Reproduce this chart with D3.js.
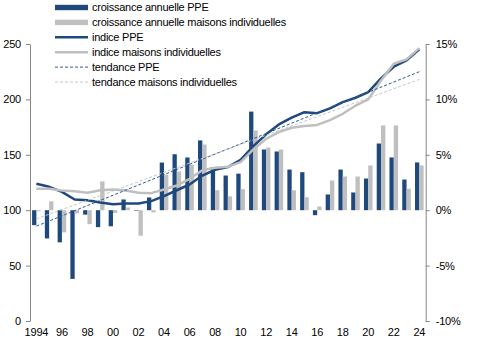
<!DOCTYPE html>
<html>
<head>
<meta charset="utf-8">
<script src="https://cdn.jsdelivr.net/npm/d3@7"></script>
<style>
  body { margin: 0; background: #fff; }
  svg { font-family: "Liberation Sans", Arial, sans-serif; font-size: 11px; }
  .axis path, .axis line { stroke: #868686; }
  .axis text { fill: #000; font-size: 11px; letter-spacing: -0.2px; }
  .legend text { fill: #000; letter-spacing: -0.25px; }
</style>
</head>
<body>
<div id="chart"></div>
<script>
var years = [1994,1995,1996,1997,1998,1999,2000,2001,2002,2003,2004,2005,2006,2007,2008,2009,
             2010,2011,2012,2013,2014,2015,2016,2017,2018,2019,2020,2021,2022,2023,2024];
var yearTicks = [1994,1996,1998,2000,2002,2004,2006,2008,2010,2012,2014,2016,2018,2020,2022,2024];
var yearLabels = ["1994","96","98","00","02","04","06","08","10","12","14","16","18","20","22","24"];

// croissance annuelle, en %
var croissancePPE = [-1.35,-2.55,-2.9,-6.2,-0.4,-1.53,-1.45,0.97,-0.05,1.15,4.3,5.05,4.76,6.3,3.9,3.13,
                     3.3,8.9,5.48,5.3,3.67,3.43,-0.45,1.42,3.67,1.6,2.86,6.02,4.76,2.77,4.31];
var croissanceMaisons = [-0.1,0.8,-2.0,-0.3,-1.26,2.6,-0.25,0.24,-2.3,-0.2,3.2,3.5,4.1,5.93,1.8,1.25,
                         1.9,7.2,5.66,5.48,1.8,1.17,0.33,2.68,3.04,3.04,4.04,7.65,7.65,1.93,4.04];

// indices
var indicePPE = [123.8,121.1,116.6,109.7,109,107,105.4,106,106,108.2,112.7,118,123.2,131.3,136.5,138.9,
                 145.5,157.8,168.5,177.4,183.5,188.5,187.6,191.9,197.5,201.5,206.6,219,229.5,235.3,245.2];
var indiceMaisons = [119.3,119.3,117.8,117.2,115.7,118,118.7,117.8,115.7,115.4,118.7,122.3,128.3,136,138.3,139.2,
                     143.4,154.8,164.5,170.5,174.4,175.9,177,181.3,187,194.3,200,217,232.2,236.1,246.3];

// tendances (debut 1994, fin 2024)
var tendanceYears = [1994, 2024];
var tendancePPE = [85.6, 225];
var tendanceMaisons = [92.2, 218];

var leftTicks = [0,50,100,150,200,250];
var rightTicks = [-10,-5,0,5,10,15];

var blue = "#1f497d", grey = "#bfbfbf";

var width = 491, height = 340;
var svg = d3.select("#chart").append("svg")
    .attr("width", width)
    .attr("height", height);

var x = d3.scaleBand().domain(years).range([30, 425.7]);
var xSub = d3.scaleBand().domain(["ppe","maisons"]).range([0, x.bandwidth()]).paddingOuter(0.485);
var yLeft = d3.scaleLinear().domain([0,250]).range([321,44]);
var yRight = d3.scaleLinear().domain([-10,15]).range([321,44]);
var cx = function(yr){ return x(yr) + x.bandwidth()/2; };

// barres
var bars = svg.append("g").attr("class","bars");
bars.selectAll("rect.ppe")
  .data(years)
  .enter().append("rect")
    .attr("class","ppe")
    .attr("x", function(d){ return x(d) + xSub("ppe"); })
    .attr("width", xSub.bandwidth())
    .attr("y", function(d,i){ return yRight(Math.max(0, croissancePPE[i])); })
    .attr("height", function(d,i){ return Math.abs(yRight(croissancePPE[i]) - yRight(0)); })
    .attr("fill", blue);

bars.selectAll("rect.maisons")
  .data(years)
  .enter().append("rect")
    .attr("class","maisons")
    .attr("x", function(d){ return x(d) + xSub("maisons"); })
    .attr("width", xSub.bandwidth())
    .attr("y", function(d,i){ return yRight(Math.max(0, croissanceMaisons[i])); })
    .attr("height", function(d,i){ return Math.abs(yRight(croissanceMaisons[i]) - yRight(0)); })
    .attr("fill", grey);

// lignes
var line = d3.line()
    .x(function(d){ return cx(d[0]); })
    .y(function(d){ return yLeft(d[1]); });

svg.append("path")
    .datum(d3.zip(years, indicePPE))
    .attr("d", line)
    .attr("fill","none").attr("stroke", blue).attr("stroke-width", 2.5)
    .attr("stroke-linejoin","round");

svg.append("path")
    .datum(d3.zip(years, indiceMaisons))
    .attr("d", line)
    .attr("fill","none").attr("stroke", grey).attr("stroke-width", 2.5)
    .attr("stroke-linejoin","round");

svg.append("path")
    .datum(d3.zip(tendanceYears, tendancePPE))
    .attr("d", line)
    .attr("fill","none").attr("stroke", "#2e5a96").attr("stroke-width", 1)
    .attr("stroke-dasharray","3,2");

svg.append("path")
    .datum(d3.zip(tendanceYears, tendanceMaisons))
    .attr("d", line)
    .attr("fill","none").attr("stroke", "#c6c6c6").attr("stroke-width", 1)
    .attr("stroke-dasharray","3,2");

// axes
svg.append("g")
    .attr("class","axis")
    .attr("transform","translate(30,0)")
    .call(d3.axisLeft(yLeft).tickValues(leftTicks).tickSize(4).tickSizeOuter(0).tickPadding(5));

svg.append("g")
    .attr("class","axis")
    .attr("transform","translate(425.7,0)")
    .call(d3.axisRight(yRight).tickValues(rightTicks).tickSize(4).tickSizeOuter(0).tickPadding(6)
      .tickFormat(function(d){ return d + "%"; }));

var xAxis = svg.append("g")
    .attr("class","axis")
    .attr("transform","translate(0,321)")
    .call(d3.axisBottom(x).tickValues(yearTicks).tickSize(0).tickPadding(7)
      .tickFormat(function(d){ return yearLabels[yearTicks.indexOf(d)]; }));
xAxis.select(".domain").remove();

// legende
var legendItems = [
  {label: "croissance annuelle PPE", type: "bar", color: blue},
  {label: "croissance annuelle maisons individuelles", type: "bar", color: grey},
  {label: "indice PPE", type: "line", color: blue},
  {label: "indice maisons individuelles", type: "line", color: grey},
  {label: "tendance PPE", type: "dash", color: "#2e5a96"},
  {label: "tendance maisons individuelles", type: "dash", color: "#c6c6c6"}
];

var legend = svg.append("g").attr("class","legend");
var row = legend.selectAll("g")
  .data(legendItems)
  .enter().append("g")
    .attr("transform", function(d,i){ return "translate(0," + (7.5 + i*14.9) + ")"; });

row.filter(function(d){ return d.type == "bar"; })
  .append("rect")
    .attr("x", 55).attr("y", -2.7).attr("width", 33).attr("height", 5.4)
    .attr("fill", function(d){ return d.color; });

row.filter(function(d){ return d.type != "bar"; })
  .append("line")
    .attr("x1", 55).attr("x2", 88)
    .attr("stroke", function(d){ return d.color; })
    .attr("stroke-width", function(d){ return d.type == "line" ? 2.5 : 1; })
    .attr("stroke-dasharray", function(d){ return d.type == "dash" ? "3,2" : null; });

row.append("text")
    .attr("x", 92)
    .attr("dy", "0.35em")
    .text(function(d){ return d.label; });
</script>
</body>
</html>
